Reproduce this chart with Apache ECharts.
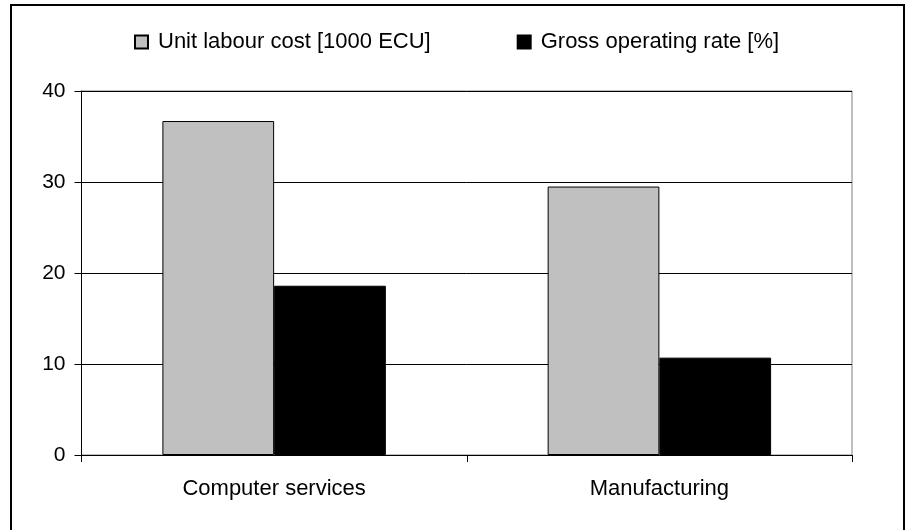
<!DOCTYPE html>
<html>
<head>
<meta charset="utf-8">
<script src="https://cdn.jsdelivr.net/npm/echarts@6/dist/echarts.min.js"></script>
<style>
  html, body { margin: 0; padding: 0; background: #fff; }
  #chart { width: 909px; height: 530px; }
</style>
</head>
<body>
<div id="chart"></div>
<script>
// data
const categories = ['Computer services', 'Manufacturing'];
const labourCost = [36.7, 29.5];      // Unit labour cost [1000 ECU]
const operatingRate = [18.6, 10.7];   // Gross operating rate [%]
const yTicks = [0, 10, 20, 30, 40];

const font = 'Liberation Sans, Arial, sans-serif';

const chart = echarts.init(document.getElementById('chart'));

chart.setOption({
  animation: false,
  backgroundColor: '#fff',
  // outer frame of the chart
  graphic: [{
    type: 'rect',
    shape: { x: 11, y: 5, width: 893, height: 540 },
    style: { fill: 'none', stroke: '#000', lineWidth: 2 },
    silent: true
  }],
  legend: {
    left: 129,
    top: 26,
    itemWidth: 13,
    itemHeight: 13,
    itemGap: 86,
    icon: 'rect',
    textStyle: { fontFamily: font, fontSize: 22, color: '#000', padding: [0, 0, 0, 5] },
    data: ['Unit labour cost [1000 ECU]', 'Gross operating rate [%]']
  },
  grid: {
    left: 81.5,
    right: 57,
    top: 91,
    bottom: 75,
    show: true,
    borderColor: '#808080',
    borderWidth: 1
  },
  xAxis: {
    type: 'category',
    data: categories,
    axisLine: { lineStyle: { color: '#000', width: 1 } },
    axisTick: { show: true, length: 7, lineStyle: { color: '#000' } },
    axisLabel: { fontFamily: font, fontSize: 22, color: '#000', margin: 23 }
  },
  yAxis: {
    type: 'value',
    min: yTicks[0],
    max: yTicks[yTicks.length - 1],
    interval: 10,
    axisLine: { show: true, lineStyle: { color: '#000', width: 1 } },
    axisTick: { show: true, length: 7, lineStyle: { color: '#000' } },
    axisLabel: { fontFamily: font, fontSize: 21, color: '#000', margin: 16 },
    splitLine: { show: true, lineStyle: { color: '#000', width: 1 } }
  },
  series: [
    {
      name: 'Unit labour cost [1000 ECU]',
      type: 'bar',
      data: labourCost,
      barGap: '0%',
      barCategoryGap: '42%',
      itemStyle: { color: '#c0c0c0', borderColor: '#000', borderWidth: 1 }
    },
    {
      name: 'Gross operating rate [%]',
      type: 'bar',
      data: operatingRate,
      itemStyle: { color: '#000', borderColor: '#000', borderWidth: 1 }
    }
  ]
});
</script>
</body>
</html>
